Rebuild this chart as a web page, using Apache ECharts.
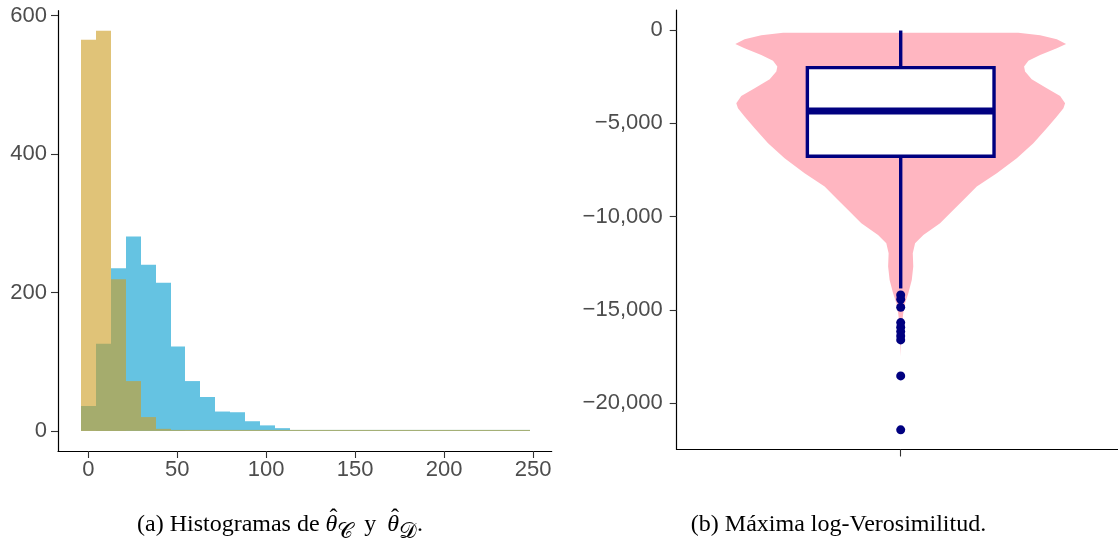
<!DOCTYPE html>
<html><head><meta charset="utf-8">
<script src="https://cdn.jsdelivr.net/npm/echarts@6/dist/echarts.min.js"></script>
<style>html,body{margin:0;padding:0;background:#fff}#c{width:1118px;height:543px}</style>
</head><body><div id="c"></div>
<script>
// ---------- Panel (a): histograms ----------
const binCenters = [0, 8.41, 16.82, 25.23, 33.64, 42.05, 50.46, 58.87, 67.28, 75.69,
  84.1, 92.51, 100.92, 109.33, 117.74, 126.15, 134.56, 142.97, 151.38, 159.79,
  168.2, 176.61, 185.02, 193.43, 201.84, 210.25, 218.66, 227.07, 235.48, 243.89];
const binWidth = 8.41;
const countsD = [36, 126, 235, 281, 240, 214, 122, 72, 49, 28, 27, 14, 8, 4, 0,
  0, 0, 0, 0, 0, 0, 0, 0, 0, 0, 0, 0, 0, 0, 0];
const countsC = [565, 578, 219, 72, 20, 3, 1, 1, 0, 0, 0, 0, 0, 0, 0,
  0, 0, 0, 0, 0, 0, 0, 0, 0, 0, 0, 0, 0, 0, 1];
const histXTicks = [0, 50, 100, 150, 200, 250];
const histYTicks = [0, 200, 400, 600];

// ---------- Panel (b): violin + boxplot ----------
const llTicks = [0, -5000, -10000, -15000, -20000];
const boxStats = [-13850, -6770, -4340, -2020, -30]; // lower whisker, Q1, median, Q3, upper whisker
const outliers = [-14196, -14428, -14857, -15678, -15929, -16161, -16393, -16607, -18536, -21428];
const violinValue = [-143, -286, -500, -750, -982, -1339, -1643, -1964, -2232, -2643,
  -3125, -3536, -3928, -4196, -4643, -5268, -6071, -6875, -7678, -8393,
  -9107, -9643, -10357, -10982, -11428, -11964, -12678, -13393, -14107, -14642,
  -15200, -15800, -16500, -17500];
const violinWidth = [0.711, 0.843, 0.944, 1, 0.944, 0.843, 0.772, 0.746, 0.752, 0.792,
  0.883, 0.964, 0.994, 0.984, 0.944, 0.883, 0.802, 0.702, 0.581, 0.46,
  0.379, 0.318, 0.238, 0.137, 0.087, 0.073, 0.076, 0.067, 0.046, 0.026,
  0.015, 0.007, 0.003, 0];

// ---------- captions ----------
const captionA = [
  { t: '(a) Histogramas de ', size: 24 },
  { t: '\u03B8', size: 24, italic: true, hat: true },
  { t: '\uD835\uDC9E', size: 22, sub: true },
  { t: ' y ', size: 24, stretch: 1 },
  { t: '\u03B8', size: 24, italic: true, hat: true },
  { t: '\uD835\uDC9F', size: 22, sub: true },
  { t: '.', size: 24 }
];
const captionAWidth = 286;
const captionB = '(b) Máxima log-Verosimilitud.';

const VIOLIN_HALF = 0.443;
const BOX_HALF = 0.25;
const NAVY = '#000080';
const PINK = '#FFB6C1';
const LABEL_FONT = "'Liberation Sans', Arial, sans-serif";
const SERIF = "'Liberation Serif', 'DejaVu Serif', serif";

function histRender(color, opacity) {
  return function (params, api) {
    const c = api.value(0), n = api.value(1);
    const p0 = api.coord([c - binWidth / 2, 0]);
    const p1 = api.coord([c + binWidth / 2, n]);
    const x0 = Math.round(p0[0]), x1 = Math.round(p1[0]);
    let y = p1[1], h = p0[1] - p1[1];
    if (h < 1) { h = 1; y = p0[1] - 1; }
    return { type: 'rect', shape: { x: x0, y: y, width: x1 - x0, height: h },
      style: { fill: color, opacity: opacity } };
  };
}

function axisCommon(ticks, margin, fmt) {
  return {
    axisLine: { show: true, onZero: false, lineStyle: { color: '#000', width: 1.2 } },
    axisTick: { show: true, length: 7, customValues: ticks, lineStyle: { color: '#333', width: 1.1 } },
    axisLabel: { show: true, customValues: ticks, color: '#4D4D4D', fontSize: 22,
      fontFamily: LABEL_FONT, margin: margin, formatter: fmt },
    splitLine: { show: false }
  };
}

const fmtLL = v => v === 0 ? '0' : (v < 0 ? '\u2212' : '') + Math.abs(v).toLocaleString('en-US');

// lay out caption (a) token by token so the hats sit over the thetas
const mctx = document.createElement('canvas').getContext('2d');
function textW(tok) {
  mctx.font = (tok.italic ? 'italic ' : '') + tok.size + 'px ' + SERIF;
  return mctx.measureText(tok.t).width;
}
function buildCaption(tokens, cx, cy, targetW) {
  const widths = tokens.map(textW);
  const natural = widths.reduce((a, w) => a + w, 0);
  const shares = tokens.reduce((a, t) => a + (t.stretch || 0), 0);
  const unit = Math.max(0, targetW - natural) / shares;
  const total = natural + unit * shares;
  let x = cx - total / 2;
  const els = [];
  tokens.forEach((tok, i) => {
    const y = tok.sub ? cy + 7 : cy;
    const shift = (tok.t.charAt(0) === ' ') ? unit * (tok.stretch || 0) / 2 : 0;
    els.push({ type: 'text', x: x + shift, y: y, style: { text: tok.t, align: 'left', verticalAlign: 'middle',
      fontFamily: SERIF, fontSize: tok.size, fontStyle: tok.italic ? 'italic' : 'normal', fill: '#000' } });
    if (tok.hat) {
      els.push({ type: 'text', x: x + widths[i] / 2 + 2, y: cy - 6, style: { text: '\u02C6', align: 'center',
        verticalAlign: 'middle', fontFamily: SERIF, fontSize: 24, fill: '#000' } });
    }
    x += widths[i] + unit * (tok.stretch || 0);
  });
  return els;
}

const chart = echarts.init(document.getElementById('c'), null, { renderer: 'canvas' });
chart.setOption({
  animation: false,
  backgroundColor: '#fff',
  grid: [
    { left: 58, top: 10.7, width: 493.7, height: 440.3, containLabel: false, outerBoundsMode: 'none' },
    { left: 676.7, top: 10, width: 448, height: 439.5, containLabel: false, outerBoundsMode: 'none' }
  ],
  xAxis: [
    Object.assign({ type: 'value', gridIndex: 0, min: -17, max: 260.5 }, axisCommon(histXTicks, 8, v => String(v))),
    Object.assign({ type: 'value', gridIndex: 1, min: -0.6, max: 0.6 }, axisCommon([0], 8, () => ''))
  ],
  yAxis: [
    Object.assign({ type: 'value', gridIndex: 0, min: -29, max: 607 }, axisCommon(histYTicks, 11, v => String(v))),
    Object.assign({ type: 'value', gridIndex: 1, min: -22480, max: 1070 }, axisCommon(llTicks, 14, fmtLL))
  ],
  series: [
    { type: 'custom', xAxisIndex: 0, yAxisIndex: 0, renderItem: histRender('#65C3E2', 1),
      data: binCenters.map((c, i) => [c, countsD[i]]), encode: { x: 0, y: 1 } },
    { type: 'custom', xAxisIndex: 0, yAxisIndex: 0, renderItem: histRender('#CD9E25', 0.62),
      data: binCenters.map((c, i) => [c, countsC[i]]), encode: { x: 0, y: 1 } },
    { type: 'custom', xAxisIndex: 1, yAxisIndex: 1, data: [[0, violinValue[0]]],
      renderItem: function (params, api) {
        const pts = [api.coord([0, violinValue[0]])];
        for (let i = 0; i < violinValue.length; i++) pts.push(api.coord([violinWidth[i] * VIOLIN_HALF, violinValue[i]]));
        for (let i = violinValue.length - 1; i >= 0; i--) pts.push(api.coord([-violinWidth[i] * VIOLIN_HALF, violinValue[i]]));
        return { type: 'polygon', shape: { points: pts }, style: { fill: PINK } };
      } },
    { type: 'custom', xAxisIndex: 1, yAxisIndex: 1, data: [boxStats],
      renderItem: function (params, api) {
        const lo = api.value(0), q1 = api.value(1), md = api.value(2), q3 = api.value(3), hi = api.value(4);
        const cTop = api.coord([0, hi]), cQ3 = api.coord([0, q3]), cQ1 = api.coord([0, q1]), cLo = api.coord([0, lo]);
        const bl = api.coord([-BOX_HALF, q3]), br = api.coord([BOX_HALF, q1]);
        const ml = api.coord([-BOX_HALF, md]), mr = api.coord([BOX_HALF, md]);
        const ls = { stroke: NAVY, lineWidth: 3.4 };
        return { type: 'group', children: [
          { type: 'line', shape: { x1: cTop[0], y1: cTop[1], x2: cQ3[0], y2: cQ3[1] }, style: ls },
          { type: 'line', shape: { x1: cQ1[0], y1: cQ1[1], x2: cLo[0], y2: cLo[1] }, style: ls },
          { type: 'rect', shape: { x: bl[0], y: bl[1], width: br[0] - bl[0], height: br[1] - bl[1] },
            style: { fill: '#fff', stroke: NAVY, lineWidth: 3.4 } },
          { type: 'line', shape: { x1: ml[0], y1: ml[1], x2: mr[0], y2: mr[1] }, style: { stroke: NAVY, lineWidth: 7 } }
        ] };
      } },
    { type: 'scatter', xAxisIndex: 1, yAxisIndex: 1, symbol: 'circle', symbolSize: 9,
      itemStyle: { color: NAVY, opacity: 1 }, data: outliers.map(v => [0, v]) }
  ],
  graphic: buildCaption(captionA, 280, 525, captionAWidth).concat([
    { type: 'text', x: 838.5, y: 525, style: {
      text: captionB, align: 'center', verticalAlign: 'middle',
      fontFamily: SERIF, fontSize: 24, fill: '#000' } }
  ])
});
</script>
</body></html>
